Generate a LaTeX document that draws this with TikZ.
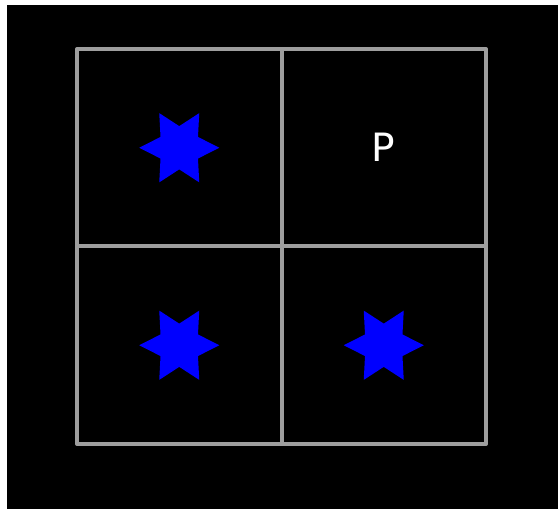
\documentclass[tikz,border=0pt]{standalone}
\usepackage{fontspec}
\setsansfont{DejaVu Sans}
\usetikzlibrary{shapes.geometric,positioning}
\definecolor{gridgray}{RGB}{158,158,158}
\definecolor{starblue}{RGB}{0,0,255}
\tikzset{
  cell/.style={
    draw=gridgray,
    line width=4pt,
    line join=round,
    minimum width=204.5pt,
    minimum height=197.5pt,
    inner sep=0pt,
    outer sep=0pt
  },
  hexstar/.style={
    star,
    star points=6,
    star point ratio=1.85,
    fill=starblue,
    minimum size=80pt,
    inner sep=0pt,
    shape border rotate=90
  },
  letter/.style={
    text=white,
    font=\sffamily\fontsize{39}{39}\selectfont
  }
}

\begin{document}
\begin{tikzpicture}[x=1pt, y=1pt]
  % page and dark background
  \fill[white] (0,0) rectangle (558,509);
  \fill[black] (7,0) rectangle (558,504);
  \useasboundingbox (0,0) rectangle (558,509);
  % 2x2 grid
  \node[cell] (nw) at (179.25,361.25) {};
  \node[cell, right=0pt of nw] (ne) {};
  \node[cell, below=0pt of nw] (sw) {};
  \node[cell, right=0pt of sw] (se) {};
  % contents
  \node[hexstar] (starnw) at (nw.center) {};
  \node[letter] (p) at (ne.center) {P};
  \node[hexstar] (starsw) at (sw.center) {};
  \node[hexstar] (starse) at (se.center) {};
\end{tikzpicture}
\end{document}
